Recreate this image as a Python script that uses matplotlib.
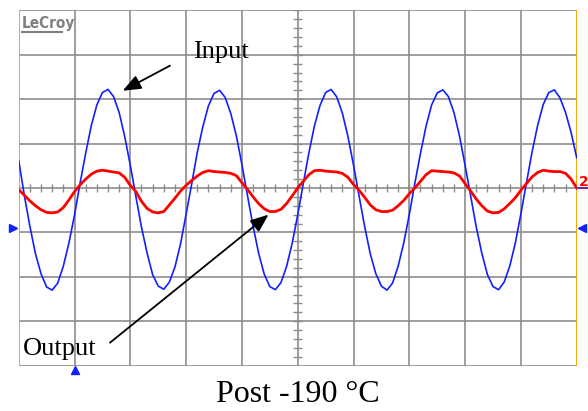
import numpy as np
import matplotlib.pyplot as plt

n_xdiv = 10
n_ydiv = 8
t_div = np.linspace(0, n_xdiv, 101)

input_v = [
    0.62, -0.16, -0.86, -1.48, -1.93, -2.23, -2.30, -2.14, -1.76, -1.24,
    -0.61, 0.11, 0.78, 1.40, 1.87, 2.15, 2.22, 2.06, 1.70, 1.16,
    0.51, -0.19, -0.88, -1.46, -1.95, -2.21, -2.28, -2.12, -1.78, -1.26,
    -0.59, 0.09, 0.80, 1.38, 1.85, 2.13, 2.20, 2.04, 1.68, 1.18,
    0.53, -0.17, -0.86, -1.47, -1.94, -2.22, -2.29, -2.13, -1.77, -1.25,
    -0.61, 0.10, 0.79, 1.40, 1.86, 2.15, 2.22, 2.05, 1.69, 1.16,
    0.52, -0.18, -0.87, -1.48, -1.93, -2.21, -2.30, -2.14, -1.76, -1.24,
    -0.60, 0.11, 0.78, 1.39, 1.87, 2.14, 2.21, 2.06, 1.70, 1.17,
    0.51, -0.18, -0.88, -1.47, -1.95, -2.22, -2.29, -2.12, -1.76, -1.24,
    -0.58, 0.12, 0.81, 1.41, 1.88, 2.15, 2.21, 2.03, 1.70, 1.25,
    0.68,
]

output_v = [
    -0.04, -0.16, -0.29, -0.40, -0.49, -0.55, -0.56, -0.54, -0.44, -0.27,
    -0.08, 0.07, 0.20, 0.31, 0.38, 0.40, 0.38, 0.36, 0.34, 0.24,
    0.06, -0.08, -0.30, -0.46, -0.54, -0.56, -0.53, -0.38, -0.23, -0.07,
    0.06, 0.17, 0.27, 0.35, 0.39, 0.37, 0.36, 0.35, 0.33, 0.28,
    0.12, -0.03, -0.20, -0.35, -0.47, -0.53, -0.53, -0.48, -0.35, -0.18,
    0.00, 0.15, 0.30, 0.39, 0.40, 0.38, 0.37, 0.36, 0.33, 0.24,
    0.08, -0.05, -0.21, -0.38, -0.49, -0.53, -0.53, -0.50, -0.40, -0.28,
    -0.13, 0.00, 0.15, 0.30, 0.39, 0.38, 0.37, 0.36, 0.34, 0.27,
    0.10, -0.07, -0.25, -0.40, -0.52, -0.56, -0.55, -0.47, -0.35, -0.22,
    -0.05, 0.10, 0.25, 0.35, 0.40, 0.38, 0.37, 0.37, 0.33, 0.20,
    0.00,
]

trigger_level = -0.9
trigger_time = 1.0

grid_col = '#8c8c8c'
border_col = '#ffa500'
blue = '#1020ff'
red = '#ff0000'
serif = ['Liberation Serif', 'DejaVu Serif']

fig = plt.figure(figsize=(5.88, 4.11), dpi=100)
ax = fig.add_axes([18.7 / 588, 1 - 365.6 / 411, 558 / 588, 355.2 / 411])
ax.set_xlim(0, n_xdiv)
ax.set_ylim(-n_ydiv / 2, n_ydiv / 2)
ax.axis('off')

# graticule
for gx in range(1, n_xdiv):
    ax.axvline(gx, color=grid_col, lw=1.2, zorder=1)
for gy in range(-n_ydiv // 2, n_ydiv // 2 + 1):
    ax.axhline(gy, color=grid_col, lw=1.2, zorder=1)
ax.axvline(0, color=border_col, lw=1.4, zorder=2)
ax.axvline(n_xdiv, color=border_col, lw=1.4, zorder=2)

# minor ticks on the centre cross
xt = np.arange(0, n_xdiv + 0.01, 0.2)
ax.vlines(xt, -0.09, 0.09, color=grid_col, lw=1.0, zorder=1)
yt = np.arange(-n_ydiv / 2, n_ydiv / 2 + 0.01, 0.2)
ax.hlines(yt, n_xdiv / 2 - 0.08, n_xdiv / 2 + 0.08, color=grid_col, lw=1.0, zorder=1)

ax.plot(t_div, input_v, color=blue, lw=1.2, zorder=3, solid_joinstyle='round')
ax.plot(t_div, output_v, color=red, lw=2.0, zorder=4)

# scope markers
ax.plot(-0.1, trigger_level, marker='>', ms=5.5, color=blue, clip_on=False)
ax.plot(n_xdiv + 0.1, trigger_level, marker='<', ms=5.5, color=blue, clip_on=False)
ax.plot(trigger_time, -n_ydiv / 2 - 0.1, marker='^', ms=5.5, color=blue, clip_on=False)

# LeCroy logo
ax.text(0.005, 0.984, 'LeCroy', transform=ax.transAxes, ha='left', va='top',
        fontsize=11, fontweight='bold', fontstretch='condensed',
        family='DejaVu Sans', color='#808080', zorder=5)
ax.plot([0.004, 0.08], [0.9395, 0.9395], transform=ax.transAxes,
        color='#808080', lw=1.5, solid_capstyle='butt', zorder=5)

# channel 2 label at right edge
fig.text(578.5 / 588, 1 - 186 / 411, '2', color=red, fontsize=10,
         fontweight='bold', ha='left', va='baseline')
fig.add_artist(plt.Line2D([577 / 588, 1.0], [1 - 188.5 / 411] * 2,
                          color='#7b2a8c', lw=1.5))

# annotations
arrow = dict(arrowstyle='-|>,head_length=0.55,head_width=0.22',
             mutation_scale=20, color='black', lw=1.3, shrinkA=0, shrinkB=0)
ax.annotate('', xy=(1.864, 2.19), xytext=(2.711, 2.755), arrowprops=arrow)
ax.text(3.124, 2.92, 'Input', family=serif, fontsize=19, ha='left', va='baseline')
ax.annotate('', xy=(4.477, -0.60), xytext=(1.636, -3.484), arrowprops=arrow)
ax.text(0.077, -3.76, 'Output', family=serif, fontsize=19, ha='left', va='baseline')

fig.text(298 / 588, 1 - 401.7 / 411, 'Post -190 \u00b0C', family=serif,
         fontsize=23, ha='center', va='baseline')

fig.savefig('out.png', dpi=100)
